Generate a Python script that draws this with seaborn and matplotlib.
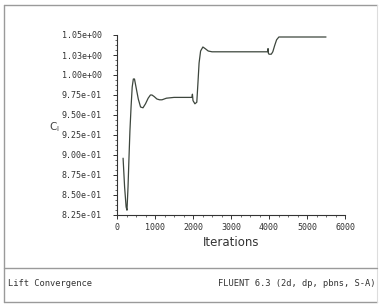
import numpy as np
import pandas as pd
import matplotlib
matplotlib.use("Agg")
import matplotlib.pyplot as plt
import seaborn as sns
from matplotlib.lines import Line2D
from matplotlib.ticker import FixedLocator, FixedFormatter, AutoMinorLocator

# lift coefficient history
iterations = [160, 200, 240, 263, 290, 315, 340, 370, 400, 430, 460, 500, 560, 620, 684,
              750, 820, 880, 920, 980, 1050, 1120, 1184, 1300, 1500, 1800, 1970, 1985, 2000,
              2050, 2100, 2130, 2160, 2200, 2260, 2320, 2400, 2500, 3000, 3500, 3960, 3975,
              3985, 4000, 4060, 4100, 4150, 4200, 4260, 4300, 5000, 5500]
cl = [0.896, 0.86, 0.835, 0.831, 0.86, 0.896, 0.93, 0.96, 0.985, 0.995, 0.995, 0.985,
      0.97, 0.96, 0.959, 0.964, 0.971, 0.975, 0.975, 0.973, 0.970, 0.969, 0.969, 0.971,
      0.972, 0.972, 0.972, 0.976, 0.968, 0.964, 0.966, 0.99, 1.015, 1.03, 1.035, 1.033,
      1.030, 1.029, 1.029, 1.029, 1.029, 1.033, 1.027, 1.026, 1.026, 1.029, 1.037, 1.044,
      1.0475, 1.0475, 1.0475, 1.0475]

y_ticks = [0.825, 0.85, 0.875, 0.9, 0.925, 0.95, 0.975, 1.0, 1.025, 1.05]
y_labels = ["8.25e-01", "8.50e-01", "8.75e-01", "9.00e-01", "9.25e-01", "9.50e-01",
            "9.75e-01", "1.00e+00", "1.03e+00", "1.05e+00"]
x_ticks = [0, 1000, 2000, 3000, 4000, 5000, 6000]
x_labels = ["0", "1000", "2000", "3000", "4000", "5000", "6000"]

df = pd.DataFrame({"Iterations": iterations, "Cl": cl})

sns.set_style("ticks")
plt.rcParams["font.family"] = ["DejaVu Sans"]

W, H = 379, 304
fig = plt.figure(figsize=(W / 100, H / 100), dpi=100)
ax = fig.add_axes([117 / W, 1 - 215 / H, (345 - 117) / W, (215 - 35) / H])

sns.lineplot(data=df, x="Iterations", y="Cl", sort=False, estimator=None,
             color="#3d463d", linewidth=0.9, ax=ax)

ax.set_xlim(0, 6000)
ax.set_ylim(0.825, 1.05)
ax.yaxis.set_major_locator(FixedLocator(y_ticks))
ax.yaxis.set_major_formatter(FixedFormatter(y_labels))
ax.xaxis.set_major_locator(FixedLocator(x_ticks))
ax.xaxis.set_major_formatter(FixedFormatter(x_labels))
ax.yaxis.set_minor_locator(AutoMinorLocator(4))
ax.xaxis.set_minor_locator(AutoMinorLocator(4))

for lab in ax.get_yticklabels() + ax.get_xticklabels():
    lab.set_family("DejaVu Sans Mono")
    lab.set_fontsize(6)
    lab.set_color("#444444")
ax.tick_params(axis="y", which="major", length=3, width=0.7, pad=8, colors="#333333")
ax.tick_params(axis="x", which="major", length=3, width=0.7, pad=3, colors="#333333")
ax.tick_params(which="minor", length=1.5, width=0.5, colors="#333333")

for s in ["top", "right"]:
    ax.spines[s].set_visible(False)
for s in ["left", "bottom"]:
    ax.spines[s].set_linewidth(0.8)
    ax.spines[s].set_color("#333333")

ax.set_xlabel("Iterations", fontsize=8.5, color="#333333", labelpad=3)
ax.set_ylabel(r"$\mathregular{C_l}$", fontsize=7.5, rotation=0, color="#444444",
              va="center", ha="center")
ax.yaxis.set_label_coords(-0.275, 0.49)

# frame and footer
def px_line(x0, y0, x1, y1, **kw):
    fig.add_artist(Line2D([x0 / W, x1 / W], [1 - y0 / H, 1 - y1 / H], **kw))

frame = dict(color="#9a9a9a", linewidth=1.0)
px_line(4, 5, 377, 5, **frame)
px_line(4, 302, 377, 302, **frame)
px_line(4, 5, 4, 302, **frame)
px_line(377, 5, 377, 302, color="#dddddd", linewidth=0.8)
px_line(4, 268, 377, 268, **frame)

fig.text(8 / W, 1 - 283 / H, "Lift Convergence", fontsize=6.3, family="DejaVu Sans Mono",
         color="#333333", va="center", ha="left")
fig.text(375 / W, 1 - 283 / H, "FLUENT 6.3 (2d, dp, pbns, S-A)", fontsize=6.3,
         family="DejaVu Sans Mono", color="#333333", va="center", ha="right")

fig.savefig("out.png", dpi=100)
